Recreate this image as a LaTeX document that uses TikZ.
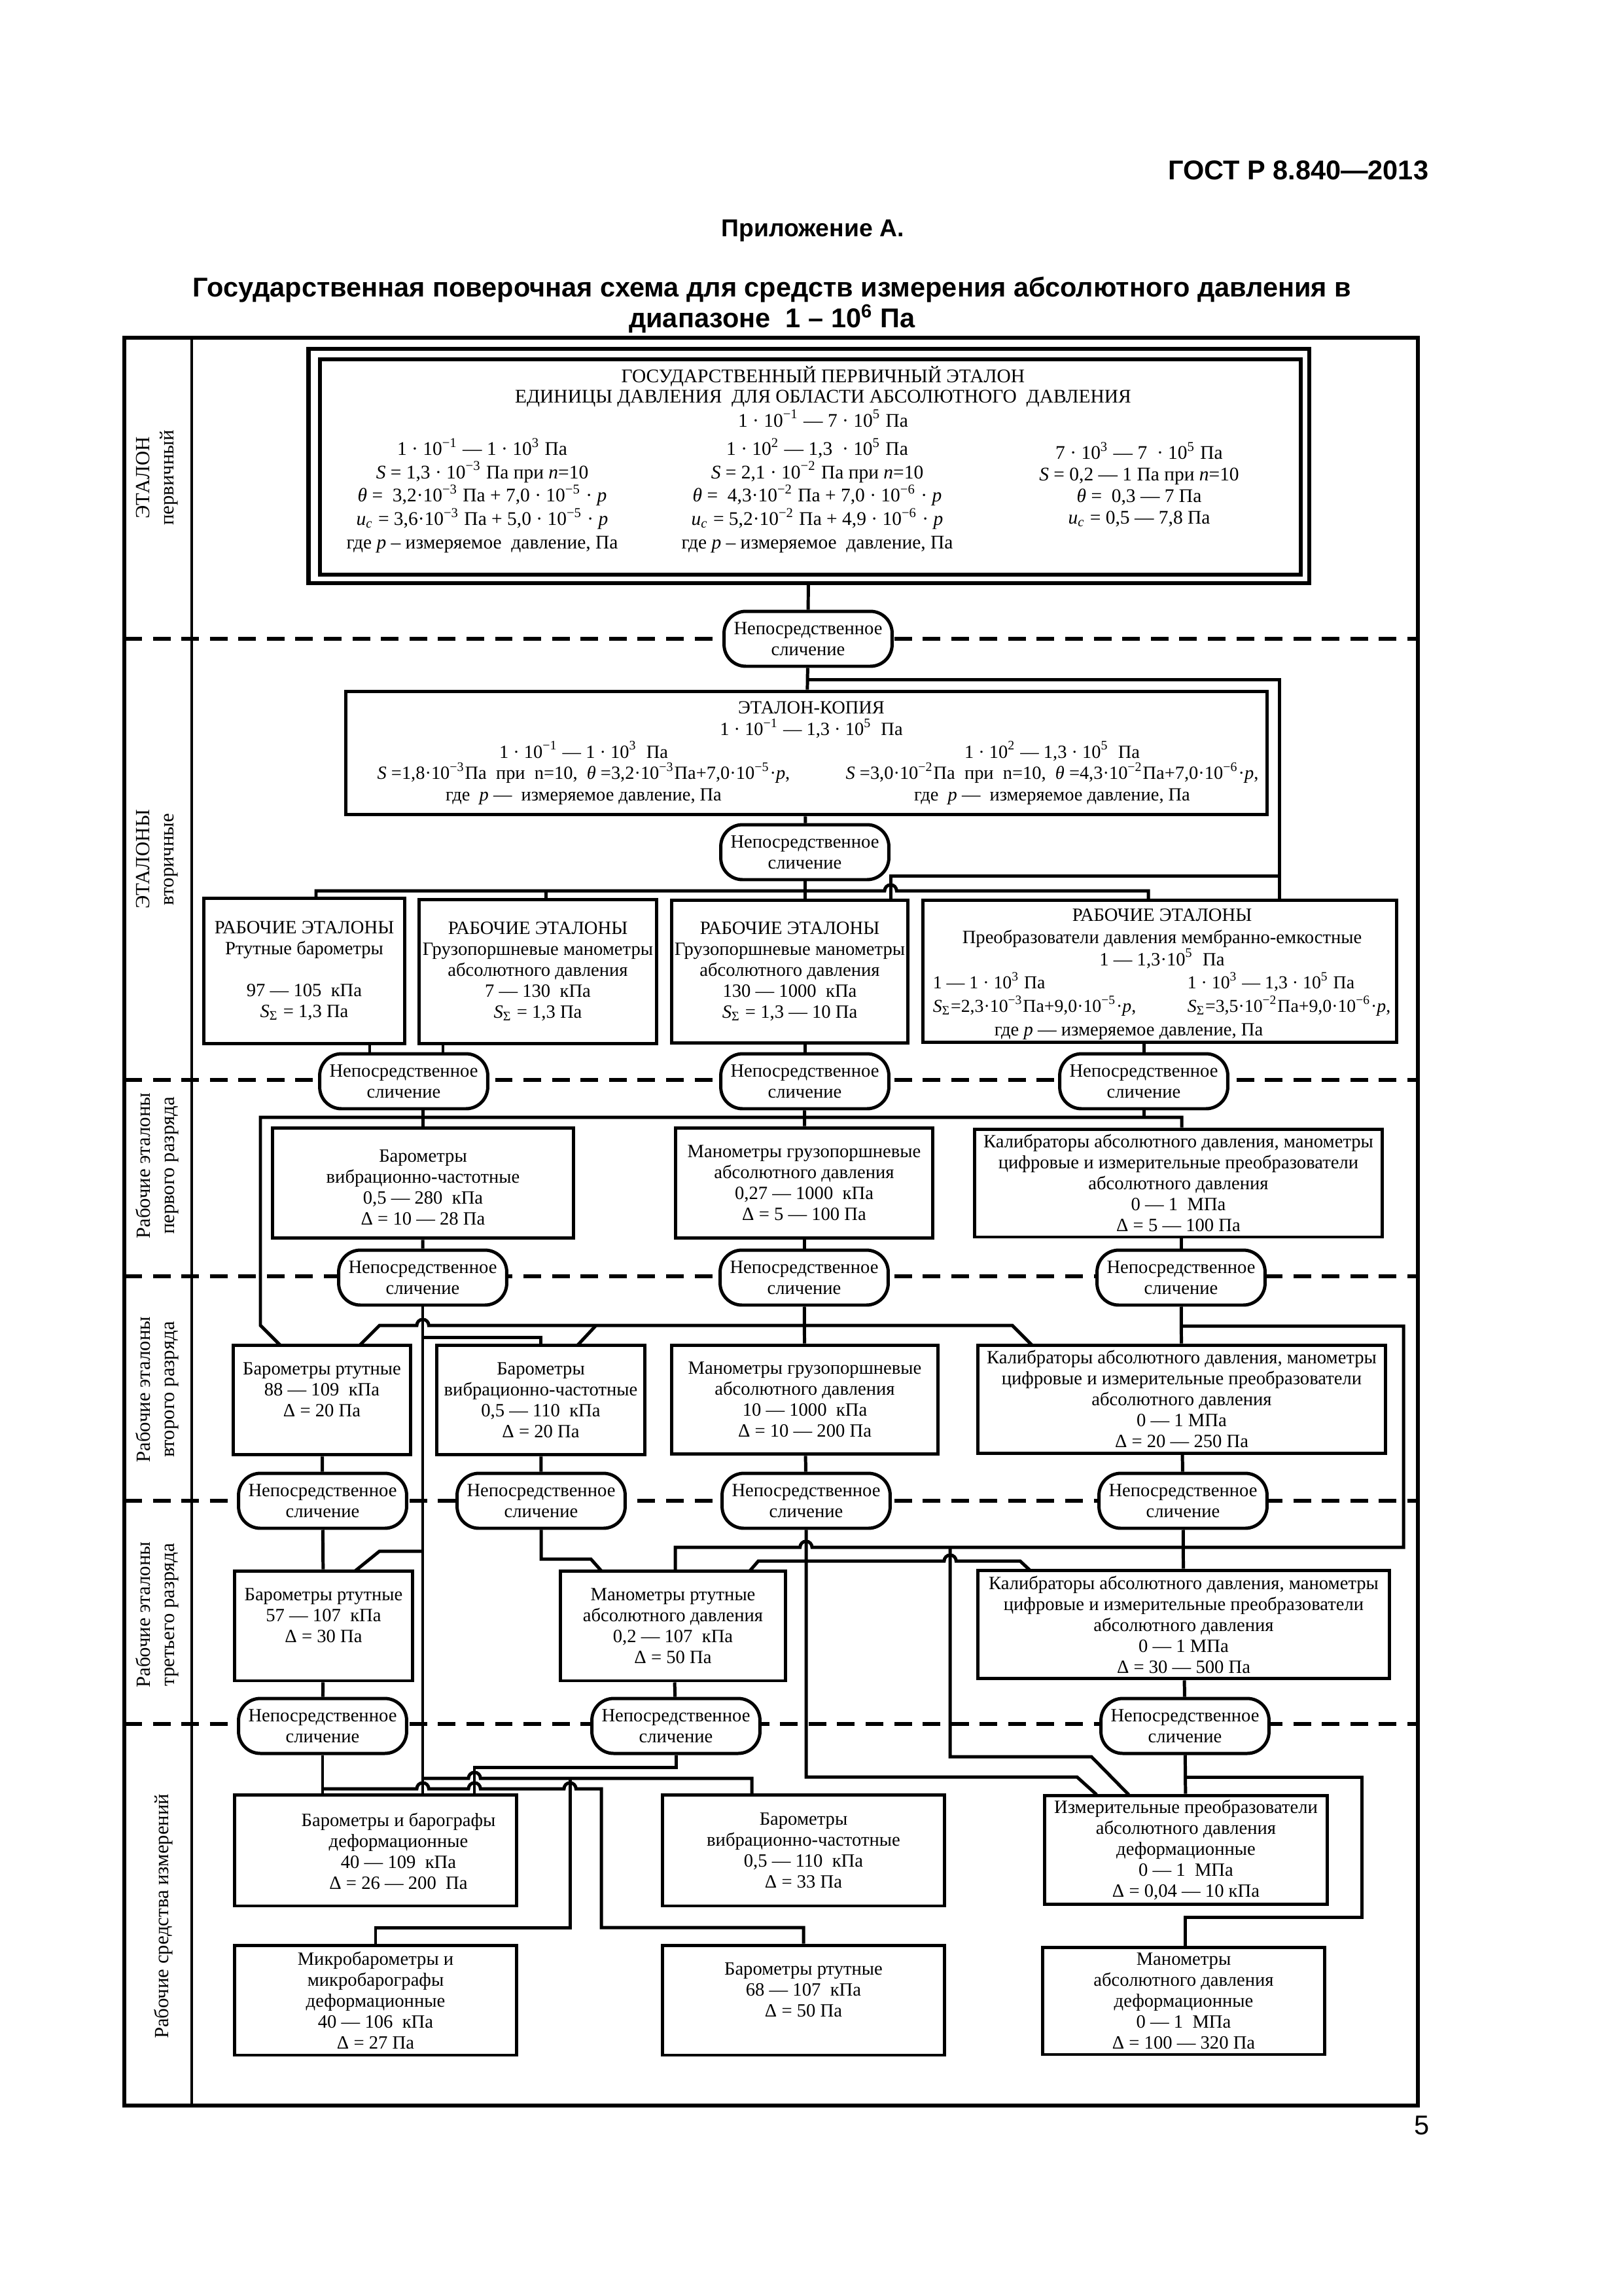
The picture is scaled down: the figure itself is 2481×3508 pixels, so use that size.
\documentclass[tikz,border=0pt]{standalone}
\usepackage{fontspec}
\setmainfont{Liberation Serif}
\newfontfamily\headfont{Liberation Sans}

\newcommand{\boxfont}{\fontsize{6.9}{7.7}\selectfont}
\newcommand{\pefont}{\fontsize{7.1}{7.5}\selectfont}
\newcommand{\colfont}{\fontsize{7.1}{8.6}\selectfont}
\newcommand{\colfontb}{\fontsize{7.1}{7.9}\selectfont}
\newcommand{\ekfont}{\fontsize{6.85}{7.9}\selectfont}
\newcommand{\sectfont}{\fontsize{7.4}{8.9}\selectfont}
\newcommand{\jr}{arc[start angle=180,end angle=0,radius=2.2pt]}
\newcommand{\jl}{arc[start angle=0,end angle=180,radius=2.2pt]}
\newcommand{\sig}{\textit{S}\textsubscript{Σ}}
\newcommand{\tsup}[1]{\textsuperscript{#1}}

\tikzset{
  box/.style={draw, line width=1.2pt, inner sep=0pt, align=center, font=\boxfont},
  dbl/.style={draw, line width=1.5pt, inner sep=0pt},
  cmp/.style={draw, fill=white, line width=1.2pt, rounded corners=8pt,
    minimum width=2.175cm, minimum height=0.711cm, inner sep=0pt,
    align=center, font=\boxfont},
  txt/.style={inner sep=0pt, align=center, font=\boxfont},
  sect/.style={rotate=90, inner sep=0pt, align=center, font=\sectfont},
  wire/.style={line width=1.2pt},
  sepline/.style={line width=1.4pt, dash pattern=on 6.5pt off 4pt},
}

\begin{document}
\begin{tikzpicture}[x=0.008464cm, y=-0.008464cm]

            \useasboundingbox (0,0) rectangle (2481,3508);

            % frame, label column and level separators
            \draw[line width=1.3pt] (190,516) rectangle (2167,3217);
            \draw[line width=1pt] (293,516) -- (293,3217);
            \foreach \yy in {976,1650,1950,2293,2634}
                \draw[sepline] (190,\yy) -- (2167,\yy);

            % page head
            \path   (2184,260) node (gost) [anchor=east, inner sep=0pt, font=\headfont\bfseries\fontsize{10}{12}\selectfont] {ГОСТ Р 8.840—2013}
                    (1242,353) node (app) [inner sep=0pt, font=\headfont\bfseries\fontsize{9}{11}\selectfont] {Приложение А.}
                    (1180,466) node (ttl) [inner sep=0pt, align=center, font=\headfont\bfseries\fontsize{10}{11.3}\selectfont] {Государственная поверочная схема для средств измерения абсолютного давления в\\диапазоне \ 1 – 10\tsup{6} Па}
                    (2173,3247) node (pgno) [inner sep=0pt, font=\headfont\fontsize{10}{12}\selectfont] {5};

            % level labels
            \path   (240,730) node (s1) [sect] {ЭТАЛОН\\первичный}
                    (240,1313) node (s2) [sect] {ЭТАЛОНЫ\\вторичные}
                    (240,1781) node (s3) [sect] {Рабочие эталоны\\первого разряда}
                    (240,2123) node (s4) [sect] {Рабочие эталоны\\второго разряда}
                    (240,2467) node (s5) [sect] {Рабочие эталоны\\третьего разряда}
                    (250,2928) node (s6) [sect] {Рабочие средства измерений};

            % primary standard
            \path   (1236,712) node (pe) [dbl, minimum width=12.95cm, minimum height=3.03cm] {}
                    (1238.5,713.5) node (pi) [dbl, minimum width=12.688cm, minimum height=2.785cm] {}
                    (1258,606) node (pehead) [txt, font=\pefont] {ГОСУДАРСТВЕННЫЙ ПЕРВИЧНЫЙ ЭТАЛОН\\ЕДИНИЦЫ ДАВЛЕНИЯ \ ДЛЯ ОБЛАСТИ АБСОЛЮТНОГО \ ДАВЛЕНИЯ\\1 · 10\tsup{−1} — 7 · 10\tsup{5} Па}
                    (737,757) node (pecol1) [txt, font=\colfont] {1 · 10\tsup{−1} — 1 · 10\tsup{3} Па\\\textit{S} = 1,3 · 10\tsup{−3} Па при \textit{n}=10\\\textit{θ} = \ 3,2·10\tsup{−3} Па + 7,0 · 10\tsup{−5} · \textit{p}\\\textit{u}\textsubscript{\textit{c}} = 3,6·10\tsup{−3} Па + 5,0 · 10\tsup{−5} · \textit{p}\\где \textit{p} – измеряемое \ давление, Па}
                    (1249,757) node (pecol2) [txt, font=\colfont] {1 · 10\tsup{2} — 1,3 \ · 10\tsup{5} Па\\\textit{S} = 2,1 · 10\tsup{−2} Па при \textit{n}=10\\\textit{θ} = \ 4,3·10\tsup{−2} Па + 7,0 · 10\tsup{−6} · \textit{p}\\\textit{u}\textsubscript{\textit{c}} = 5,2·10\tsup{−2} Па + 4,9 · 10\tsup{−6} · \textit{p}\\где \textit{p} – измеряемое \ давление, Па}
                    (1741,740) node (pecol3) [txt, font=\colfontb] {7 · 10\tsup{3} — 7 \ · 10\tsup{5} Па\\\textit{S} = 0,2 — 1 Па при \textit{n}=10\\\textit{θ} = \ 0,3 — 7 Па\\\textit{u}\textsubscript{\textit{c}} = 0,5 — 7,8 Па};

            % secondary standards
            \path   (1235,976) node (c1) [cmp] {Непосредственное\\сличение}
                    (1232.5,1150.5) node (ek) [box, minimum width=11.926cm, minimum height=1.6cm] {}
                    (1240,1100) node (ektitle) [txt, font=\ekfont] {ЭТАЛОН-КОПИЯ\\1 · 10\tsup{−1} — 1,3 · 10\tsup{5} \ Па}
                    (892,1181) node (ekleft) [txt, font=\ekfont] {1 · 10\tsup{−1} — 1 · 10\tsup{3} \ Па\\\textit{S} =1,8·10\tsup{−3}Па \ при \ n=10, \ \textit{θ} =3,2·10\tsup{−3}Па+7,0·10\tsup{−5}·\textit{p},\\где \ \textit{p} — \ измеряемое давление, Па}
                    (1608,1181) node (ekright) [txt, font=\ekfont] {1 · 10\tsup{2} — 1,3 · 10\tsup{5} \ Па\\\textit{S} =3,0·10\tsup{−2}Па \ при \ n=10, \ \textit{θ} =4,3·10\tsup{−2}Па+7,0·10\tsup{−6}·\textit{p},\\где \ \textit{p} — \ измеряемое давление, Па}
                    (1230,1302) node (c2) [cmp] {Непосредственное\\сличение}
                    (465,1483.5) node (b1) [box, minimum width=2.607cm, minimum height=1.887cm] {РАБОЧИЕ ЭТАЛОНЫ\\Ртутные барометры\\[7.7pt]97 — 105 \ кПа\\\sig{} = 1,3 Па}
                    (822,1484.5) node (b2) [box, minimum width=3.081cm, minimum height=1.871cm] {РАБОЧИЕ ЭТАЛОНЫ\\Грузопоршневые манометры\\абсолютного давления\\7 — 130 \ кПа\\\sig{} = 1,3 Па}
                    (1207,1484.5) node (b3) [box, minimum width=3.064cm, minimum height=1.854cm] {РАБОЧИЕ ЭТАЛОНЫ\\Грузопоршневые манометры\\абсолютного давления\\130 — 1000 \ кПа\\\sig{} = 1,3 — 10 Па}
                    (1772.5,1484) node (b4) [box, minimum width=6.136cm, minimum height=1.845cm] {}
                    (1776,1434) node (b4head) [txt, font=\fontsize{6.9}{8.2}\selectfont] {РАБОЧИЕ ЭТАЛОНЫ\\Преобразователи давления мембранно-емкостные\\1 — 1,3·10\tsup{5} \ Па}
                    (1425,1519) node (b4left) [txt, anchor=west, align=left, font=\fontsize{6.7}{8.7}\selectfont] {1 — 1 · 10\tsup{3} Па\\\sig=2,3·10\tsup{−3}Па+9,0·10\tsup{−5}·\textit{p},}
                    (1814,1519) node (b4right) [txt, anchor=west, align=left, font=\fontsize{6.7}{8.7}\selectfont] {1 · 10\tsup{3} — 1,3 · 10\tsup{5} Па\\\sig=3,5·10\tsup{−2}Па+9,0·10\tsup{−6}·\textit{p},}
                    (1725,1576) node (b4note) [txt] {где \textit{p} — измеряемое давление, Па};

            % working standards, first grade
            \path   (617,1652) node (cA) [cmp] {Непосредственное\\сличение}
                    (1230,1652) node (cB) [cmp] {Непосредственное\\сличение}
                    (1748,1652) node (cC) [cmp] {Непосредственное\\сличение}
                    (646.5,1807.5) node (d1) [box, minimum width=3.902cm, minimum height=1.43cm] {~\\Барометры\\вибрационно-частотные\\0,5 — 280 \ кПа\\Δ = 10 — 28 Па}
                    (1229,1807.5) node (d2) [box, minimum width=3.335cm, minimum height=1.43cm] {Манометры грузопоршневые\\абсолютного давления\\0,27 — 1000 \ кПа\\Δ = 5 — 100 Па}
                    (1801,1807.5) node (d3) [box, minimum width=5.282cm, minimum height=1.397cm] {Калибраторы абсолютного давления, манометры\\цифровые и измерительные преобразователи\\абсолютного давления\\0 — 1 \ МПа\\Δ = 5 — 100 Па};

            % working standards, second grade
            \path   (646,1952) node (cD) [cmp] {Непосредственное\\сличение}
                    (1229,1952) node (cE) [cmp] {Непосредственное\\сличение}
                    (1805,1952) node (cF) [cmp] {Непосредственное\\сличение}
                    (492,2139) node (e1) [box, minimum width=2.302cm, minimum height=1.422cm] {Барометры ртутные\\88 — 109 \ кПа\\Δ = 20 Па\\~}
                    (826.5,2139) node (e2) [box, minimum width=2.7cm, minimum height=1.422cm] {Барометры\\вибрационно-частотные\\0,5 — 110 \ кПа\\Δ = 20 Па}
                    (1230,2138.5) node (e3) [box, minimum width=3.453cm, minimum height=1.413cm] {Манометры грузопоршневые\\абсолютного давления\\10 — 1000 \ кПа\\Δ = 10 — 200 Па}
                    (1806,2137.5) node (e4) [box, minimum width=5.282cm, minimum height=1.397cm] {Калибраторы абсолютного давления, манометры\\цифровые и измерительные преобразователи\\абсолютного давления\\0 — 1 МПа\\Δ = 20 — 250 Па};

            % working standards, third grade
            \path   (493,2293) node (cG1) [cmp] {Непосредственное\\сличение}
                    (827,2293) node (cG2) [cmp] {Непосредственное\\сличение}
                    (1232,2293) node (cG3) [cmp] {Непосредственное\\сличение}
                    (1808,2293) node (cG4) [cmp] {Непосредственное\\сличение}
                    (494.5,2484) node (f1) [box, minimum width=2.311cm, minimum height=1.422cm] {Барометры ртутные\\57 — 107 \ кПа\\Δ = 30 Па\\~}
                    (1028.5,2484) node (f2) [box, minimum width=2.92cm, minimum height=1.422cm] {Манометры ртутные\\абсолютного давления\\0,2 — 107 \ кПа\\Δ = 50 Па}
                    (1809,2482) node (f3) [box, minimum width=5.332cm, minimum height=1.405cm] {Калибраторы абсолютного давления, манометры\\цифровые и измерительные преобразователи\\абсолютного давления\\0 — 1 МПа\\Δ = 30 — 500 Па};

            % working measuring instruments
            \path   (493,2637) node (cH1) [cmp] {Непосредственное\\сличение}
                    (1033,2637) node (cH2) [cmp] {Непосредственное\\сличение}
                    (1811,2637) node (cH3) [cmp] {Непосредственное\\сличение}
                    (574,2827) node (g1) [box, minimum width=3.656cm, minimum height=1.439cm] {}
                    (609,2828) node (g1text) [txt] {Барометры и барографы\\деформационные\\40 — 109 \ кПа\\Δ = 26 — 200 \ Па}
                    (1228,2827) node (g2) [box, minimum width=3.656cm, minimum height=1.439cm] {Барометры\\вибрационно-частотные\\0,5 — 110 \ кПа\\Δ = 33 Па}
                    (1812.5,2826.5) node (g3) [box, minimum width=3.665cm, minimum height=1.413cm] {Измерительные преобразователи\\абсолютного давления\\деформационные\\0 — 1 \ МПа\\Δ = 0,04 — 10 кПа}
                    (574,3056) node (h1) [box, minimum width=3.656cm, minimum height=1.422cm] {Микробарометры и\\микробарографы\\деформационные\\40 — 106 \ кПа\\Δ = 27 Па}
                    (1228,3056) node (h2) [box, minimum width=3.656cm, minimum height=1.422cm] {Барометры ртутные\\68 — 107 \ кПа\\Δ = 50 Па\\~}
                    (1809,3057) node (h3) [box, minimum width=3.656cm, minimum height=1.388cm] {Манометры\\абсолютного давления\\деформационные\\0 — 1 \ МПа\\Δ = 100 — 320 Па};

            % junctions and feed points
            \path   (1232,1038) coordinate (k1)
                    (1955,1375) coordinate (k2)
                    (1955,1338) coordinate (k3)
                    (1361,1375) coordinate (k4)
                    (483,1372) coordinate (k5)
                    (1755,1375) coordinate (k6)
                    (834,1361) coordinate (k7)
                    (565,1595) coordinate (a1)
                    (677,1595) coordinate (a2)
                    (398,1707) coordinate (n1)
                    (1806,1707) coordinate (n2)
                    (428,2055) coordinate (e1a)
                    (550,2055) coordinate (e1b)
                    (883,2055) coordinate (e2b)
                    (1577,2055) coordinate (e4a)
                    (646,2043) coordinate (q1)
                    (646,2370) coordinate (q2)
                    (543,2400) coordinate (f1a)
                    (1805,2026) coordinate (q3)
                    (1032,2400) coordinate (f2a)
                    (1452,2364) coordinate (q4)
                    (1725,2742) coordinate (g3a)
                    (1646,2715) coordinate (q5)
                    (1676,2742) coordinate (g3b)
                    (1146,2400) coordinate (f2b)
                    (1574,2399) coordinate (f3a)
                    (903,2382) coordinate (q6)
                    (919,2400) coordinate (f2c)
                    (493,2733) coordinate (q7)
                    (725,2700) coordinate (q8)
                    (646,2717) coordinate (q9)
                    (871,2717) coordinate (q10)
                    (1811,2715) coordinate (q11)
                    (1811,2929) coordinate (q12)
                    (1149,2742) coordinate (g2a);

            % top part
            \draw[wire] (pe) -- (c1);
            \draw[wire] (c1) -- (ek);
            \draw[wire] (k1) -| (k2);
            \draw[wire] (k3) -| (k4);
            \draw[wire] (ek) -- (c2);
            \draw[wire] (c2) -- (c2 |- b3.north);
            \draw[wire] (k5) |- (1352,1361) \jr -| (k6);
            \draw[wire] (k7) -- (k7 |- b2.north);

            % down to first grade
            \draw[wire] (a1) -- (a1 |- cA.north);
            \draw[wire] (a2) -- (a2 |- cA.north);
            \draw[wire] (b3.south -| cB) -- (cB);
            \draw[wire] (b4.south -| cC) -- (cC);
            \draw[wire] (cA.south -| d1) -- (d1);
            \draw[wire] (cB) -- (d2);
            \draw[wire] (cC) -- (cC |- n2);
            \draw[wire] (e1a) -- (398,2025) -- (n1) -| (n2 |- d3.north);

            % down to second grade
            \draw[wire] (d1) -- (cD);
            \draw[wire] (d2) -- (cE);
            \draw[wire] (d3.south -| cF) -- (cF);
            \draw[wire] (cE) -- (e3);
            \draw[wire] (e1b) -- (580,2025) -- (637,2025) \jr -- (1547,2025) -- (e4a);
            \draw[wire] (911,2025) -- (e2b);
            \draw[wire] (cD) -- (cD |- g1.north);
            \draw[wire] (q1) -| (e2.north);
            \draw[wire] (q2) -- (580,2370) -- (f1a);
            \draw[wire] (cF) -- (e4);
            \draw[wire] (q3) -- (2145,2026) -- (2145,2364) -- (1241,2364) \jl -- (1032,2364) -- (f2a);

            % down to third grade
            \draw[wire] (e1) -- (cG1);
            \draw[wire] (e2) -- (cG2);
            \draw[wire] (e3) -- (cG3);
            \draw[wire] (e4) -- (cG4);
            \draw[wire] (cG1) -- (f1);
            \draw[wire] (cG2) -- (cG2 |- q6) -- (q6) -- (f2c);
            \draw[wire] (cG3) -- (cG3 |- q5) -- (q5) -- (g3b);
            \draw[wire] (f2b) -- (1159,2385) -- (1443,2385) \jr -- (1559,2385) -- (f3a);
            \draw[wire] (q4) -- (1452,2684) -- (1668,2684) -- (g3a);
            \draw[wire] (cG4) -- (f3);

            % down to measuring instruments
            \draw[wire] (f1) -- (cH1);
            \draw[wire] (f2) -- (cH2);
            \draw[wire] (f3) -- (cH3);
            \draw[wire] (cH1) -- (cH1 |- g1.north);
            \draw[wire] (q7) -- (637,2733) \jr -- (716,2733) \jr -- (862,2733) \jr -- (919,2733) -- (919,2945) -| (h2.north);
            \draw[wire] (cH2) -- (cH2 |- q8) -- (q8) -- (q8 |- g1.north);
            \draw[wire] (q9) -- (716,2717) \jr -- (1149,2717) -- (g2a);
            \draw[wire] (q10) -- (871,2945) -| (h1.north);
            \draw[wire] (cH3) -- (g3);
            \draw[wire] (q11) -- (2081,2715) |- (q12) -- (q12 |- h3.north);

\end{tikzpicture}
\end{document}
